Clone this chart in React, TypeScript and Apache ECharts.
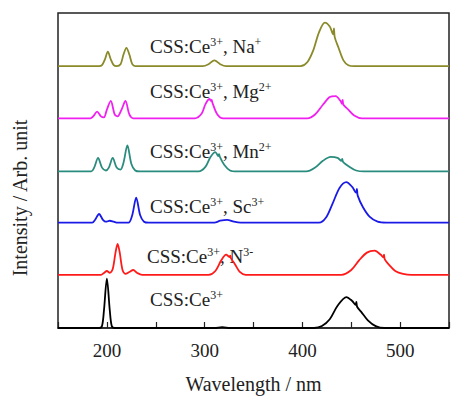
import React, { useEffect, useRef } from "react";
import * as echarts from "echarts";

const xTicks = [200, 300, 400, 500];
const names = ["Ce", "N", "Sc", "Mn", "Mg", "Na"];
const offsets = [0, 55, 109, 162, 217, 271];
const colors = ["#000000", "#ff1a1a", "#1a1ae6", "#2a8c7e", "#f020f0", "#8a8a2a"];

const ce: number[][] = [
  [150, 0], [192, 0], [195, 2], [197, 18], [200, 51], [203, 18], [205, 2], [208, 0],
  [310, 0], [318, 1], [326, 0],
  [412, 0], [420, 2], [428, 9], [436, 23], [445, 32], [451, 28], [454.5, 24], [455.2, 27], [456, 22], [460, 17], [467, 8], [475, 2], [484, 0], [550, 0],
];
const n3: number[][] = [
  [150, 0], [194, 0], [197, 2], [200, 4], [203, 2], [206, 6], [209, 24], [211, 32], [213, 24], [216, 5], [219, 1], [223, 3], [227, 5], [231, 2], [236, 0],
  [304, 0], [311, 4], [317, 15], [322, 21], [325.5, 18.5], [326.2, 20], [327, 17], [331, 11], [336, 3], [342, 0],
  [440, 0], [450, 5], [458, 15], [466, 23], [474, 25], [480, 21], [482.8, 18], [483.5, 21], [484.3, 16], [489, 10], [495, 4], [503, 1], [512, 0], [550, 0],
];
const sc: number[][] = [
  [150, 0], [185, 0], [188, 3], [192, 9], [196, 3], [199, 1], [203, 2], [207, 1], [211, 0], [222, 0], [226, 8], [230, 26], [234, 8], [238, 1], [243, 0],
  [310, 0], [316, 2], [323, 3], [330, 1], [337, 0],
  [417, 0], [424, 5], [431, 20], [438, 36], [445, 42], [451, 37], [455, 31], [455.8, 35], [456.6, 28], [462, 16], [469, 6], [477, 1], [486, 0], [550, 0],
];
const mn: number[][] = [
  [150, 0], [184, 0], [187, 4], [191, 14], [195, 4], [199, 1], [202, 4], [206, 14], [210, 4], [214, 2], [217, 9], [221, 27], [225, 8], [229, 1], [234, 0],
  [294, 0], [301, 5], [306, 15], [311, 20], [314, 16], [314.8, 18], [315.6, 15], [320, 7], [326, 1], [333, 0],
  [404, 0], [413, 4], [421, 11], [429, 15], [436, 14], [440, 11], [440.8, 13], [441.6, 10], [448, 5], [455, 1], [463, 0], [550, 0],
];
const mg: number[][] = [
  [150, 0], [183, 0], [186, 2], [190, 7], [194, 2], [197, 1], [200, 9], [204, 18], [208, 4], [211, 2], [215, 9], [219, 18], [223, 4], [227, 0],
  [290, 0], [297, 5], [301, 15], [305, 20], [306.5, 18], [307.2, 19], [308, 16], [313, 4], [319, 0],
  [405, 0], [413, 4], [421, 14], [428, 22], [434, 23], [439, 18], [440.5, 15], [441.2, 19], [442, 14], [447, 9], [453, 3], [461, 0], [550, 0],
];
const na: number[][] = [
  [150, 0], [192, 0], [195, 1], [198, 7], [201, 15], [204, 7], [207, 1], [210, 0], [214, 2], [217, 12], [220, 19], [223, 12], [226, 2], [229, 0],
  [298, 0], [304, 2], [310, 6], [316, 2], [322, 0],
  [398, 0], [405, 4], [411, 16], [417, 35], [423, 45], [428, 41], [431.5, 33], [432.3, 39], [433.1, 30], [437, 19], [442, 6], [447, 1], [453, 0], [550, 0],
];
const spectra = [ce, n3, sc, mn, mg, na];

const labelTexts = [
  "{n|CSS:Ce}{s|3+}",
  "{n|CSS:Ce}{s|3+}{n|, N}{s|3-}",
  "{n|CSS:Ce}{s|3+}{n|, Sc}{s|3+}",
  "{n|CSS:Ce}{s|3+}{n|, Mn}{s|2+}",
  "{n|CSS:Ce}{s|3+}{n|, Mg}{s|2+}",
  "{n|CSS:Ce}{s|3+}{n|, Na}{s|+}",
];

const FONT = "'Liberation Serif', 'Times New Roman', serif";

export default function App() {
  const ref = useRef<HTMLDivElement>(null);
  useEffect(() => {
    if (!ref.current) return;
    const chart = echarts.init(ref.current, null, { renderer: "svg" });
    const labelPos = [
      [150, 299], [147, 256], [150, 206], [150, 151], [150, 91], [150, 46],
    ];
    const rich = {
      n: { fontSize: 19, fontFamily: FONT, fill: "#222", lineHeight: 20 },
      s: { fontSize: 12, fontFamily: FONT, fill: "#222", verticalAlign: "top", lineHeight: 20 },
    };
    chart.setOption({
      animation: false,
      backgroundColor: "#ffffff",
      grid: {
        left: 58, top: 13, right: -2, bottom: 60,
        show: true, borderColor: "#222", borderWidth: 1.5, containLabel: false,
      },
      xAxis: {
        type: "value", min: 150, max: 550, interval: 50,
        axisLine: { show: true, lineStyle: { color: "#222", width: 1.5 } },
        axisTick: { show: true, inside: true, length: 6, lineStyle: { color: "#222", width: 1.2 } },
        axisLabel: {
          show: true, fontSize: 19, fontFamily: FONT, color: "#222", margin: 13,
          formatter: (v: number) => (xTicks.includes(v) ? String(v) : ""),
        },
        splitLine: { show: false },
        name: "Wavelength / nm", nameLocation: "middle", nameGap: 46,
        nameTextStyle: { fontSize: 20, fontFamily: FONT, color: "#222" },
      },
      yAxis: {
        type: "value", min: 0, max: 326,
        axisLine: { show: false }, axisTick: { show: false }, axisLabel: { show: false },
        splitLine: { show: false },
      },
      graphic: [
        {
          type: "text", x: 20, y: 198, rotation: Math.PI / 2,
          style: {
            text: "Intensity / Arb. unit", fontSize: 20, fontFamily: FONT, fill: "#222",
            align: "center", verticalAlign: "middle",
          },
        },
        ...labelTexts.map((t, i) => ({
          type: "text", x: labelPos[i][0], y: labelPos[i][1],
          style: { text: t, rich, align: "left", verticalAlign: "middle" },
        })),
      ],
      series: spectra.map((d, i) => ({
        name: names[i],
        type: "line",
        data: d.map(([x, y]) => [x, y + offsets[i]]),
        showSymbol: false,
        smooth: 0.3,
        lineStyle: { color: colors[i], width: 1.8 },
        itemStyle: { color: colors[i] },
        z: 3,
      })),
    });
    return () => chart.dispose();
  }, []);
  return <div ref={ref} style={{ width: 452, height: 399, position: "absolute", left: 0, top: 0 }} />;
}
